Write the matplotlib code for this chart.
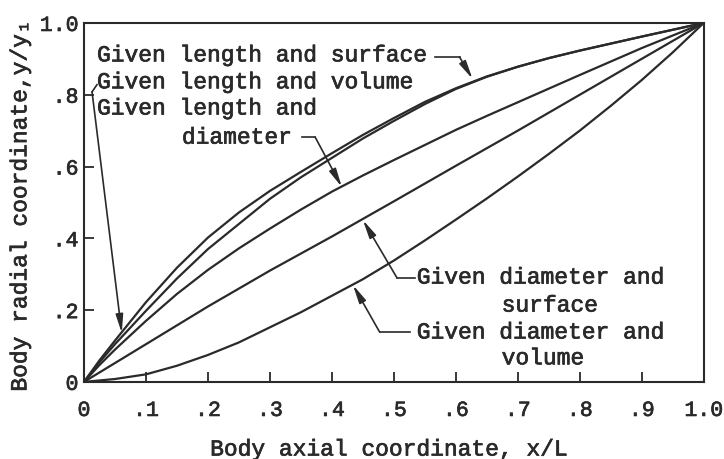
import numpy as np
import matplotlib
matplotlib.use('Agg')
import matplotlib.pyplot as plt
import matplotlib.patheffects as pe

plt.rcParams['font.family'] = ['Liberation Mono', 'DejaVu Sans Mono']

# (x/L, y/y1)
x_std = [0, 0.025, 0.05, 0.1, 0.15, 0.2, 0.25, 0.3, 0.35, 0.4, 0.45, 0.5,
         0.55, 0.6, 0.65, 0.7, 0.75, 0.8, 0.9, 1.0]
y_len_surf = [0, 0.06, 0.115, 0.222, 0.318, 0.402, 0.472, 0.532, 0.585, 0.637, 0.688, 0.735,
              0.78, 0.818, 0.851, 0.878, 0.902, 0.923, 0.962, 1.0]
y_len_vol = [0, 0.055, 0.105, 0.198, 0.288, 0.37, 0.44, 0.51, 0.57, 0.624, 0.678, 0.727,
             0.774, 0.816, 0.850, 0.878, 0.902, 0.923, 0.962, 1.0]
y_len_dia = [0, 0.047, 0.09, 0.17, 0.245, 0.312, 0.372, 0.427, 0.48, 0.53, 0.575, 0.618,
             0.66, 0.702, 0.741, 0.779, 0.817, 0.855, 0.93, 1.0]

x_cone = [0, 0.1, 0.2, 0.3, 0.4, 0.5, 0.6, 0.7, 0.8, 0.9, 1.0]
y_dia_surf = [0, 0.105, 0.21, 0.31, 0.405, 0.503, 0.602, 0.70, 0.80, 0.90, 1.0]

x_dv = [0, 0.05, 0.1, 0.15, 0.2, 0.25, 0.3, 0.35, 0.4, 0.45, 0.5, 0.55, 0.6, 0.65,
        0.7, 0.75, 0.8, 0.85, 0.9, 0.95, 1.0]
y_dia_vol = [0, 0.008, 0.021, 0.045, 0.075, 0.110, 0.152, 0.194, 0.240, 0.286, 0.338, 0.394,
             0.452, 0.511, 0.572, 0.635, 0.700, 0.769, 0.841, 0.918, 1.0]

xticks = [0, 0.1, 0.2, 0.3, 0.4, 0.5, 0.6, 0.7, 0.8, 0.9, 1.0]
xticklabels = ['0', '.1', '.2', '.3', '.4', '.5', '.6', '.7', '.8', '.9', '1.0']
yticks = [0, 0.2, 0.4, 0.6, 0.8, 1.0]
yticklabels = ['0', '.2', '.4', '.6', '.8', '1.0']

ink = '#2a2a2a'
fs = 16.5
bold_ink = [pe.withStroke(linewidth=0.5, foreground=ink)]

fig = plt.figure(figsize=(7.24, 4.59), dpi=100)
ax = fig.add_axes([0.116, 0.168, 0.856, 0.782])

for yy, xx in [(y_len_surf, x_std), (y_len_vol, x_std), (y_len_dia, x_std),
               (y_dia_surf, x_cone), (y_dia_vol, x_dv)]:
    ax.plot(xx, yy, color=ink, lw=1.6, solid_capstyle='round', solid_joinstyle='round')

ax.set_xlim(0, 1)
ax.set_ylim(0, 1)
ax.set_xticks(xticks)
ax.set_xticklabels(xticklabels)
ax.set_yticks(yticks)
ax.set_yticklabels(yticklabels)
ax.tick_params(direction='in', length=7, width=1.3, colors=ink, labelsize=15.5)
ax.tick_params(axis='x', pad=13)
ax.tick_params(axis='y', pad=4)
for lab in ax.get_xticklabels() + ax.get_yticklabels():
    lab.set_path_effects(bold_ink)
for sp in ax.spines.values():
    sp.set_color(ink)
    sp.set_linewidth(1.5)

ax.set_xlabel('Body axial coordinate, x/L', fontsize=fs, color=ink, path_effects=bold_ink)
ax.xaxis.set_label_coords(0.492, -0.155)
ax.set_ylabel('Body radial coordinate,y/y\u2081', fontsize=fs, color=ink, path_effects=bold_ink)
ax.yaxis.set_label_coords(-0.085, 0.49)

txt = dict(fontsize=fs, color=ink, ha='left', va='center', path_effects=bold_ink)
ax.text(0.021, 0.911, 'Given length and surface', **txt)
ax.text(0.021, 0.836, 'Given length and volume', **txt)
ax.text(0.021, 0.763, 'Given length and', **txt)
ax.text(0.158, 0.682, 'diameter', **txt)
ax.text(0.537, 0.292, 'Given diameter and', **txt)
ax.text(0.674, 0.214, 'surface', **txt)
ax.text(0.537, 0.139, 'Given diameter and', **txt)
ax.text(0.674, 0.067, 'volume', **txt)

arr = dict(arrowstyle='-|>,head_length=1.1,head_width=0.22', color=ink, lw=1.2,
           mutation_scale=10, shrinkA=0, shrinkB=0)
lead = dict(color=ink, lw=1.2)

# length and surface
ax.plot([0.566, 0.606], [0.905, 0.905], **lead)
ax.annotate('', xy=(0.627, 0.844), xytext=(0.606, 0.905), arrowprops=arr)
# length and volume
ax.plot([0.021, 0.013], [0.828, 0.808], **lead)
ax.annotate('', xy=(0.061, 0.136), xytext=(0.013, 0.808), arrowprops=arr)
# length and diameter
ax.plot([0.352, 0.373], [0.682, 0.682], **lead)
ax.annotate('', xy=(0.416, 0.543), xytext=(0.373, 0.682), arrowprops=arr)
# diameter and surface
ax.plot([0.534, 0.505], [0.29, 0.29], **lead)
ax.annotate('', xy=(0.45, 0.451), xytext=(0.505, 0.29), arrowprops=arr)
# diameter and volume
ax.plot([0.526, 0.477], [0.139, 0.139], **lead)
ax.annotate('', xy=(0.434, 0.270), xytext=(0.477, 0.139), arrowprops=arr)

fig.savefig('out.png', dpi=100)
